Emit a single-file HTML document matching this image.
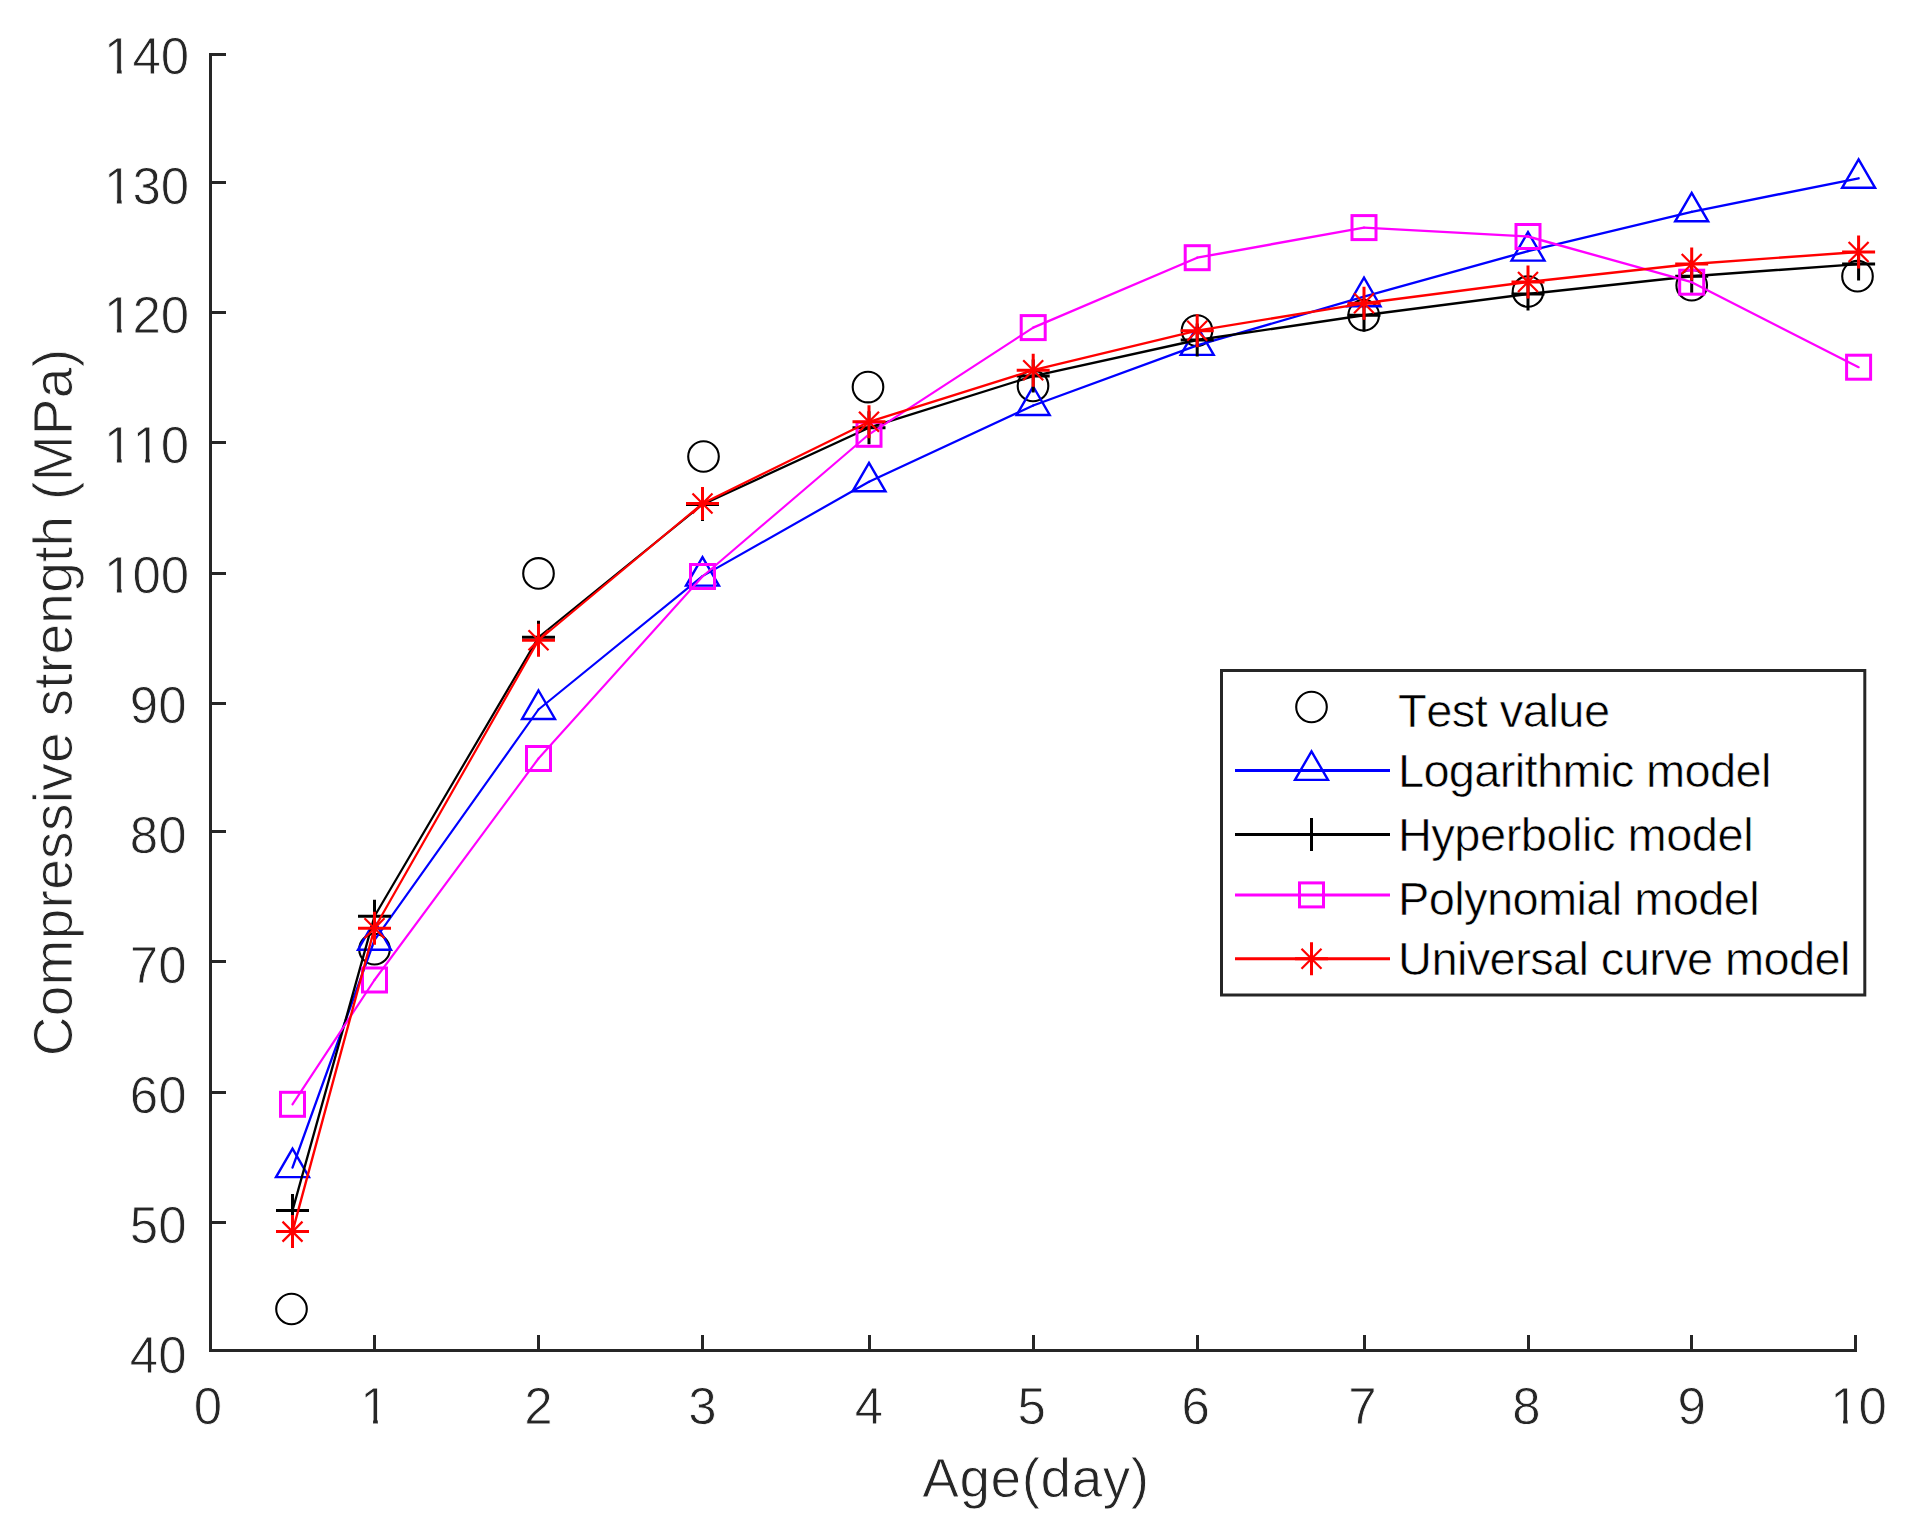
<!DOCTYPE html>
<html lang="en"><head><meta charset="utf-8"><title>Compressive strength vs age</title>
<style>
html,body{margin:0;padding:0;background:#fff;overflow:hidden}
svg{display:block}
text{font-family:"Liberation Sans",Arial,Helvetica,sans-serif;font-kerning:none}
.tk{font-size:51px;fill:#262626;stroke:#fff;stroke-width:.8px;paint-order:fill stroke}
.lb{font-size:55px;fill:#262626;stroke:#fff;stroke-width:.9px;paint-order:fill stroke}
.lg{font-size:47px;fill:#000;stroke:#fff;stroke-width:.6px;paint-order:fill stroke}
.m{fill:none;stroke-width:3}
</style></head><body>
<svg width="1913" height="1535" viewBox="0 0 1913 1535" role="img" aria-label="Compressive strength versus age for test values and four fitted models">
<rect width="1913" height="1535" fill="#fff"/>
<defs><clipPath id="c140"><rect x="98.1" y="22.6" width="97.1" height="46.7"/><rect x="98.1" y="69.2" width="8.7" height="8.3"/><rect x="116.9" y="69.2" width="4.7" height="8.3"/><rect x="131.1" y="69.2" width="64.1" height="8.3"/></clipPath><clipPath id="c130"><rect x="98.1" y="152.5" width="97.1" height="46.7"/><rect x="98.1" y="199.1" width="8.7" height="8.3"/><rect x="116.9" y="199.1" width="4.7" height="8.3"/><rect x="131.1" y="199.1" width="64.1" height="8.3"/></clipPath><clipPath id="c120"><rect x="98.1" y="282.4" width="97.1" height="46.7"/><rect x="98.1" y="329" width="8.7" height="8.3"/><rect x="116.9" y="329" width="4.7" height="8.3"/><rect x="131.1" y="329" width="64.1" height="8.3"/></clipPath><clipPath id="c110"><rect x="98.1" y="412.3" width="97.1" height="46.7"/><rect x="98.1" y="458.9" width="8.7" height="8.3"/><rect x="116.9" y="458.9" width="4.7" height="8.3"/><rect x="131.1" y="458.9" width="4.1" height="8.3"/><rect x="145.2" y="458.9" width="4.7" height="8.3"/><rect x="159.5" y="458.9" width="35.7" height="8.3"/></clipPath><clipPath id="c100"><rect x="98.1" y="542.2" width="97.1" height="46.7"/><rect x="98.1" y="588.8" width="8.7" height="8.3"/><rect x="116.9" y="588.8" width="4.7" height="8.3"/><rect x="131.1" y="588.8" width="64.1" height="8.3"/></clipPath><clipPath id="cx1"><rect x="354.3" y="1373" width="40.4" height="46.7"/><rect x="354.3" y="1419.6" width="8.7" height="8.3"/><rect x="373.1" y="1419.6" width="4.7" height="8.3"/><rect x="387.3" y="1419.6" width="7.3" height="8.3"/></clipPath><clipPath id="cx10"><rect x="1824.2" y="1373" width="68.7" height="46.7"/><rect x="1824.2" y="1419.6" width="8.7" height="8.3"/><rect x="1843" y="1419.6" width="4.7" height="8.3"/><rect x="1857.3" y="1419.6" width="35.7" height="8.3"/></clipPath></defs>
<g stroke="#262626" stroke-width="3" fill="none" shape-rendering="crispEdges">
<path d="M210.5 53V1352"/>
<path d="M209 1350.5H1857"/>
<path d="M209 54.5H225.5"/>
<path d="M209 182.5H225.5"/>
<path d="M209 312.4H225.5"/>
<path d="M209 442.8H225.5"/>
<path d="M209 573.5H225.5"/>
<path d="M209 703.9H225.5"/>
<path d="M209 831.3H225.5"/>
<path d="M209 961.6H225.5"/>
<path d="M209 1092.5H225.5"/>
<path d="M209 1222.4H225.5"/>
<path d="M374.5 1352V1334.5"/>
<path d="M538.5 1352V1334.5"/>
<path d="M702.5 1352V1334.5"/>
<path d="M869.5 1352V1334.5"/>
<path d="M1033.5 1352V1334.5"/>
<path d="M1197.5 1352V1334.5"/>
<path d="M1364.5 1352V1334.5"/>
<path d="M1528.5 1352V1334.5"/>
<path d="M1691.5 1352V1334.5"/>
<path d="M1855.5 1352V1334.5"/>
</g>
<text class="tk" x="189.2" y="73.6" text-anchor="end" clip-path="url(#c140)">140</text>
<text class="tk" x="189.2" y="203.5" text-anchor="end" clip-path="url(#c130)">130</text>
<text class="tk" x="189.2" y="333.4" text-anchor="end" clip-path="url(#c120)">120</text>
<text class="tk" x="189.2" y="463.3" text-anchor="end" clip-path="url(#c110)">110</text>
<text class="tk" x="189.2" y="593.2" text-anchor="end" clip-path="url(#c100)">100</text>
<text class="tk" x="186.5" y="723.1" text-anchor="end">90</text>
<text class="tk" x="186.5" y="853" text-anchor="end">80</text>
<text class="tk" x="186.5" y="982.9" text-anchor="end">70</text>
<text class="tk" x="186.5" y="1112.8" text-anchor="end">60</text>
<text class="tk" x="186.5" y="1242.7" text-anchor="end">50</text>
<text class="tk" x="186.5" y="1372.6" text-anchor="end">40</text>
<text class="tk" x="208" y="1424" text-anchor="middle">0</text>
<text class="tk" x="374.5" y="1424" text-anchor="middle" clip-path="url(#cx1)">1</text>
<text class="tk" x="538.5" y="1424" text-anchor="middle">2</text>
<text class="tk" x="702.5" y="1424" text-anchor="middle">3</text>
<text class="tk" x="869" y="1424" text-anchor="middle">4</text>
<text class="tk" x="1031.7" y="1424" text-anchor="middle">5</text>
<text class="tk" x="1195.7" y="1424" text-anchor="middle">6</text>
<text class="tk" x="1362.5" y="1424" text-anchor="middle">7</text>
<text class="tk" x="1526.5" y="1424" text-anchor="middle">8</text>
<text class="tk" x="1691.7" y="1424" text-anchor="middle">9</text>
<text class="tk" x="1858.6" y="1424" text-anchor="middle" clip-path="url(#cx10)">10</text>
<text class="lb" x="922.2" y="1496.5" textLength="227" lengthAdjust="spacing">Age(day)</text>
<text class="lb" transform="translate(72,1056.3) rotate(-90)" textLength="707.3" lengthAdjust="spacing">Compressive strength (MPa)</text>
<g class="m">
<circle cx="291.5" cy="1309" r="15.3" stroke="#000000" style="stroke-width:2.1"/>
<circle cx="374.5" cy="949.2" r="15.3" stroke="#000000" style="stroke-width:2.1"/>
<circle cx="538.5" cy="573.4" r="15.3" stroke="#000000" style="stroke-width:2.1"/>
<circle cx="703.5" cy="456.5" r="15.3" stroke="#000000" style="stroke-width:2.1"/>
<circle cx="868" cy="387.1" r="15.3" stroke="#000000" style="stroke-width:2.1"/>
<circle cx="1033" cy="385.9" r="15.3" stroke="#000000" style="stroke-width:2.1"/>
<circle cx="1197" cy="330.6" r="15.3" stroke="#000000" style="stroke-width:2.1"/>
<circle cx="1363.7" cy="315.2" r="15.3" stroke="#000000" style="stroke-width:2.1"/>
<circle cx="1528" cy="291.5" r="15.3" stroke="#000000" style="stroke-width:2.1"/>
<circle cx="1691.7" cy="285.2" r="15.3" stroke="#000000" style="stroke-width:2.1"/>
<circle cx="1857.5" cy="276.2" r="15.3" stroke="#000000" style="stroke-width:2.1"/>
</g>
<g stroke="#0000ff" stroke-linecap="round" fill="none">
<line x1="292.5" y1="1167.6" x2="374.5" y2="940.2" stroke-width="2.32"/>
<line x1="374.5" y1="940.2" x2="538.5" y2="709.5" stroke-width="2.15"/>
<line x1="538.5" y1="709.5" x2="702.5" y2="576.1" stroke-width="2.09"/>
<line x1="702.5" y1="576.1" x2="869" y2="481.8" stroke-width="2.22"/>
<line x1="869" y1="481.8" x2="1033.2" y2="405.5" stroke-width="2.27"/>
<line x1="1033.2" y1="405.5" x2="1197.2" y2="345.4" stroke-width="2.32"/>
<line x1="1197.2" y1="345.4" x2="1364" y2="296.7" stroke-width="2.35"/>
<line x1="1364" y1="296.7" x2="1528" y2="251.1" stroke-width="2.35"/>
<line x1="1528" y1="251.1" x2="1691.7" y2="211.8" stroke-width="2.36"/>
<line x1="1691.7" y1="211.8" x2="1858.6" y2="178.3" stroke-width="2.37"/>
</g>
<g class="m">
<polygon points="292.5,1148.6 309,1177.1 276,1177.1" stroke="#0000ff" style="stroke-width:2.4"/>
<polygon points="374.5,921.2 391,949.7 358,949.7" stroke="#0000ff" style="stroke-width:2.4"/>
<polygon points="538.5,690.5 555,719 522,719" stroke="#0000ff" style="stroke-width:2.4"/>
<polygon points="702.5,557.1 719,585.6 686,585.6" stroke="#0000ff" style="stroke-width:2.4"/>
<polygon points="869,462.8 885.5,491.3 852.5,491.3" stroke="#0000ff" style="stroke-width:2.4"/>
<polygon points="1033.2,386.5 1049.7,415 1016.7,415" stroke="#0000ff" style="stroke-width:2.4"/>
<polygon points="1197.2,326.4 1213.7,354.9 1180.7,354.9" stroke="#0000ff" style="stroke-width:2.4"/>
<polygon points="1364,277.7 1380.5,306.2 1347.5,306.2" stroke="#0000ff" style="stroke-width:2.4"/>
<polygon points="1528,232.1 1544.5,260.6 1511.5,260.6" stroke="#0000ff" style="stroke-width:2.4"/>
<polygon points="1691.7,192.8 1708.2,221.3 1675.2,221.3" stroke="#0000ff" style="stroke-width:2.4"/>
<polygon points="1858.6,159.3 1875.1,187.8 1842.1,187.8" stroke="#0000ff" style="stroke-width:2.4"/>
</g>
<g stroke="#000000" stroke-linecap="round" fill="none">
<line x1="292.5" y1="1210.5" x2="374.5" y2="916.3" stroke-width="2.35"/>
<line x1="374.5" y1="916.3" x2="538.5" y2="637.2" stroke-width="2.21"/>
<line x1="538.5" y1="637.2" x2="702.5" y2="504.5" stroke-width="2.10"/>
<line x1="702.5" y1="504.5" x2="869" y2="427.7" stroke-width="2.27"/>
<line x1="869" y1="427.7" x2="1033.2" y2="376.1" stroke-width="2.34"/>
<line x1="1033.2" y1="376.1" x2="1197.2" y2="340" stroke-width="2.37"/>
<line x1="1197.2" y1="340" x2="1364" y2="315.2" stroke-width="2.39"/>
<line x1="1364" y1="315.2" x2="1528" y2="294" stroke-width="2.39"/>
<line x1="1528" y1="294" x2="1691.7" y2="276.2" stroke-width="2.39"/>
<line x1="1691.7" y1="276.2" x2="1858.6" y2="264.1" stroke-width="2.40"/>
</g>
<g class="m">
<path d="M276 1210.5H309M292.5 1194V1227" stroke="#000000"/>
<path d="M358 916.3H391M374.5 899.8V932.8" stroke="#000000"/>
<path d="M522 637.2H555M538.5 620.7V653.7" stroke="#000000"/>
<path d="M686 504.5H719M702.5 488V521" stroke="#000000"/>
<path d="M852.5 427.7H885.5M869 411.2V444.2" stroke="#000000"/>
<path d="M1016.7 376.1H1049.7M1033.2 359.6V392.6" stroke="#000000"/>
<path d="M1180.7 340H1213.7M1197.2 323.5V356.5" stroke="#000000"/>
<path d="M1347.5 315.2H1380.5M1364 298.7V331.7" stroke="#000000"/>
<path d="M1511.5 294H1544.5M1528 277.5V310.5" stroke="#000000"/>
<path d="M1675.2 276.2H1708.2M1691.7 259.7V292.7" stroke="#000000"/>
<path d="M1842.1 264.1H1875.1M1858.6 247.6V280.6" stroke="#000000"/>
</g>
<g stroke="#ff00ff" stroke-linecap="round" fill="none">
<line x1="292.5" y1="1104.3" x2="374.5" y2="980" stroke-width="2.17"/>
<line x1="374.5" y1="980" x2="538.5" y2="758.5" stroke-width="2.13"/>
<line x1="538.5" y1="758.5" x2="702.5" y2="576.5" stroke-width="2.05"/>
<line x1="702.5" y1="576.5" x2="869" y2="434.3" stroke-width="2.07"/>
<line x1="869" y1="434.3" x2="1033.2" y2="327.6" stroke-width="2.18"/>
<line x1="1033.2" y1="327.6" x2="1197.2" y2="257.7" stroke-width="2.29"/>
<line x1="1197.2" y1="257.7" x2="1364" y2="227.6" stroke-width="2.38"/>
<line x1="1364" y1="227.6" x2="1528" y2="236.5" stroke-width="2.40"/>
<line x1="1528" y1="236.5" x2="1691.7" y2="282.2" stroke-width="2.35"/>
<line x1="1691.7" y1="282.2" x2="1858.6" y2="367.2" stroke-width="2.25"/>
</g>
<g class="m">
<rect x="280.5" y="1092.3" width="24" height="24" stroke="#ff00ff"/>
<rect x="362.5" y="968" width="24" height="24" stroke="#ff00ff"/>
<rect x="526.5" y="746.5" width="24" height="24" stroke="#ff00ff"/>
<rect x="690.5" y="564.5" width="24" height="24" stroke="#ff00ff"/>
<rect x="857" y="422.3" width="24" height="24" stroke="#ff00ff"/>
<rect x="1021.2" y="315.6" width="24" height="24" stroke="#ff00ff"/>
<rect x="1185.2" y="245.7" width="24" height="24" stroke="#ff00ff"/>
<rect x="1352" y="215.6" width="24" height="24" stroke="#ff00ff"/>
<rect x="1516" y="224.5" width="24" height="24" stroke="#ff00ff"/>
<rect x="1679.7" y="270.2" width="24" height="24" stroke="#ff00ff"/>
<rect x="1846.6" y="355.2" width="24" height="24" stroke="#ff00ff"/>
</g>
<g stroke="#ff0000" stroke-linecap="round" fill="none">
<line x1="292.5" y1="1231.6" x2="374.5" y2="928.3" stroke-width="2.35"/>
<line x1="374.5" y1="928.3" x2="538.5" y2="640.2" stroke-width="2.22"/>
<line x1="538.5" y1="640.2" x2="702.5" y2="503.5" stroke-width="2.08"/>
<line x1="702.5" y1="503.5" x2="869" y2="421.8" stroke-width="2.26"/>
<line x1="869" y1="421.8" x2="1033.2" y2="370.2" stroke-width="2.34"/>
<line x1="1033.2" y1="370.2" x2="1197.2" y2="330.7" stroke-width="2.36"/>
<line x1="1197.2" y1="330.7" x2="1364" y2="303.3" stroke-width="2.38"/>
<line x1="1364" y1="303.3" x2="1528" y2="282" stroke-width="2.39"/>
<line x1="1528" y1="282" x2="1691.7" y2="264" stroke-width="2.39"/>
<line x1="1691.7" y1="264" x2="1858.6" y2="252" stroke-width="2.40"/>
</g>
<g class="m">
<path d="M276 1231.6H309M292.5 1215.1V1248.1" stroke="#ff0000"/><path d="M282.5 1221.6L302.5 1241.6M282.5 1241.6L302.5 1221.6" stroke="#ff0000" style="stroke-width:2.2"/>
<path d="M358 928.3H391M374.5 911.8V944.8" stroke="#ff0000"/><path d="M364.5 918.3L384.5 938.3M364.5 938.3L384.5 918.3" stroke="#ff0000" style="stroke-width:2.2"/>
<path d="M522 640.2H555M538.5 623.7V656.7" stroke="#ff0000"/><path d="M528.5 630.2L548.5 650.2M528.5 650.2L548.5 630.2" stroke="#ff0000" style="stroke-width:2.2"/>
<path d="M686 503.5H719M702.5 487V520" stroke="#ff0000"/><path d="M692.5 493.5L712.5 513.5M692.5 513.5L712.5 493.5" stroke="#ff0000" style="stroke-width:2.2"/>
<path d="M852.5 421.8H885.5M869 405.3V438.3" stroke="#ff0000"/><path d="M859 411.8L879 431.8M859 431.8L879 411.8" stroke="#ff0000" style="stroke-width:2.2"/>
<path d="M1016.7 370.2H1049.7M1033.2 353.7V386.7" stroke="#ff0000"/><path d="M1023.2 360.2L1043.2 380.2M1023.2 380.2L1043.2 360.2" stroke="#ff0000" style="stroke-width:2.2"/>
<path d="M1180.7 330.7H1213.7M1197.2 314.2V347.2" stroke="#ff0000"/><path d="M1187.2 320.7L1207.2 340.7M1187.2 340.7L1207.2 320.7" stroke="#ff0000" style="stroke-width:2.2"/>
<path d="M1347.5 303.3H1380.5M1364 286.8V319.8" stroke="#ff0000"/><path d="M1354 293.3L1374 313.3M1354 313.3L1374 293.3" stroke="#ff0000" style="stroke-width:2.2"/>
<path d="M1511.5 282H1544.5M1528 265.5V298.5" stroke="#ff0000"/><path d="M1518 272L1538 292M1518 292L1538 272" stroke="#ff0000" style="stroke-width:2.2"/>
<path d="M1675.2 264H1708.2M1691.7 247.5V280.5" stroke="#ff0000"/><path d="M1681.7 254L1701.7 274M1681.7 274L1701.7 254" stroke="#ff0000" style="stroke-width:2.2"/>
<path d="M1842.1 252H1875.1M1858.6 235.5V268.5" stroke="#ff0000"/><path d="M1848.6 242L1868.6 262M1848.6 262L1868.6 242" stroke="#ff0000" style="stroke-width:2.2"/>
</g>
<rect x="1221.5" y="670.5" width="643.3" height="324.5" fill="#fff" stroke="#262626" stroke-width="3"/>
<g class="m">
<circle cx="1311.5" cy="707" r="15.3" stroke="#000000" style="stroke-width:2.1"/>
<path d="M1235 770.4H1390" stroke="#0000ff"/>
<polygon points="1311.5,751.4 1328,779.9 1295,779.9" stroke="#0000ff" style="stroke-width:2.4"/>
<path d="M1235 834.5H1390" stroke="#000000"/>
<path d="M1295 834.5H1328M1311.5 818V851" stroke="#000000"/>
<path d="M1235 894.9H1390" stroke="#ff00ff"/>
<rect x="1299.5" y="882.9" width="24" height="24" stroke="#ff00ff"/>
<path d="M1235 958.7H1390" stroke="#ff0000"/>
<path d="M1295 958.7H1328M1311.5 942.2V975.2" stroke="#ff0000"/><path d="M1301.5 948.7L1321.5 968.7M1301.5 968.7L1321.5 948.7" stroke="#ff0000" style="stroke-width:2.2"/>
</g>
<text class="lg" x="1398" y="726.6" textLength="212.1" lengthAdjust="spacing">Test value</text>
<text class="lg" x="1397.9" y="787.1" textLength="373.5" lengthAdjust="spacing">Logarithmic model</text>
<text class="lg" x="1397.9" y="850.8" textLength="355.7" lengthAdjust="spacing">Hyperbolic model</text>
<text class="lg" x="1397.9" y="914.5" textLength="361.8" lengthAdjust="spacing">Polynomial model</text>
<text class="lg" x="1398.1" y="975.2" textLength="452.4" lengthAdjust="spacing">Universal curve model</text>
</svg>
</body></html>
